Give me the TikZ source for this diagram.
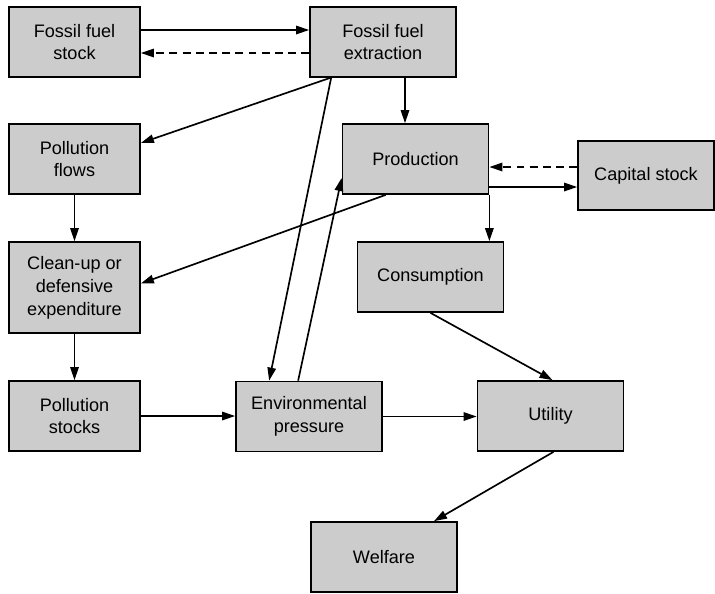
\documentclass[tikz,border=0pt]{standalone}
\usepackage{fontspec}
\setmainfont{Liberation Sans}
\usetikzlibrary{calc,arrows.meta}
\definecolor{boxg}{RGB}{204,204,204}

\begin{document}
\begin{tikzpicture}[
  x=0.02cm, y=-0.02cm,
  >={Triangle[length=7.4pt,width=4.8pt]},
  every node/.style={font=\fontsize{10.3}{13}\selectfont},
  box/.style={rectangle, draw=black, line width=1pt, fill=boxg,
              minimum width=2.62cm, minimum height=1.4cm, inner sep=2pt,
              align=center},
  wide/.style={box, minimum width=2.92cm},
  flow/.style={->, line width=0.95pt},
  back/.style={flow, dash pattern=on 4.5pt off 3pt},
]
\useasboundingbox (0,0) rectangle (715,593);

% left column
\node[box] (fstock)  at (74.5,42)    {Fossil fuel\\stock};
\node[box] (pflows)  at (74.5,159)   {Pollution\\flows};
\node[box, minimum height=1.82cm] (cleanup) at (74.5,287.5)
  {Clean-up or\\defensive\\expenditure};
\node[box] (pstocks) at (74.5,416)   {Pollution\\stocks};

% middle and right
\node[wide] (extract) at (383,42)    {Fossil fuel\\extraction};
\node[wide] (prod)    at (415.5,159) {Production};
\node[wide, minimum width=2.72cm, minimum height=1.38cm] (capital)
  at (646,175.5) {Capital stock};
\node[wide] (consump) at (430.5,277) {Consumption};
\node[wide] (envp)    at (309,416.5) {Environmental\\pressure};
\node[wide] (utility) at (550.5,416) {Utility};
\node[wide] (welfare) at (384,557)   {Welfare};

% fossil fuel loop
\draw[flow] ($(fstock.east)+(0,-12)$) -- ($(extract.west)+(0,-12)$);
\draw[back] ($(extract.west)+(0,11)$) -- ($(fstock.east)+(0,11)$);

\coordinate (e1) at ($(extract.south)+(22,0)$);
\draw[flow] (e1) -- (e1 |- prod.north);
\draw[flow] ($(extract.south west)+(21,0)$) -- ($(pflows.east)+(0,-16)$);
\draw[flow] ($(extract.south west)+(22,0)$) -- ($(envp.north west)+(34,0)$);
\draw[flow] ($(envp.north west)+(63,0)$) -- ($(prod.west)+(0,19)$);
\draw[flow] ($(prod.south west)+(44,0)$) -- ($(cleanup.east)+(0,-4)$);

% pollution chain
\draw[flow] (pflows.south) -- (cleanup.north);
\draw[flow] (cleanup.south) -- (pstocks.north);
\draw[flow] (pstocks.east) -- (pstocks.east -| envp.west);
\draw[flow] (envp.east) -- (envp.east -| utility.west);

% capital and consumption
\coordinate (c1) at ($(capital.west)+(0,-8.5)$);
\coordinate (c2) at ($(capital.west)+(0,11.5)$);
\draw[back] (c1) -- (c1 -| prod.east);
\draw[flow] (c2 -| prod.east) -- (c2);
\draw[flow] (prod.south east) -- (prod.south east |- consump.north);
\draw[flow] (consump.south) -- ($(utility.north)+(2,0)$);
\draw[flow] ($(utility.south)+(3,0)$) -- ($(welfare.north)+(50,0)$);
\end{tikzpicture}
\end{document}
